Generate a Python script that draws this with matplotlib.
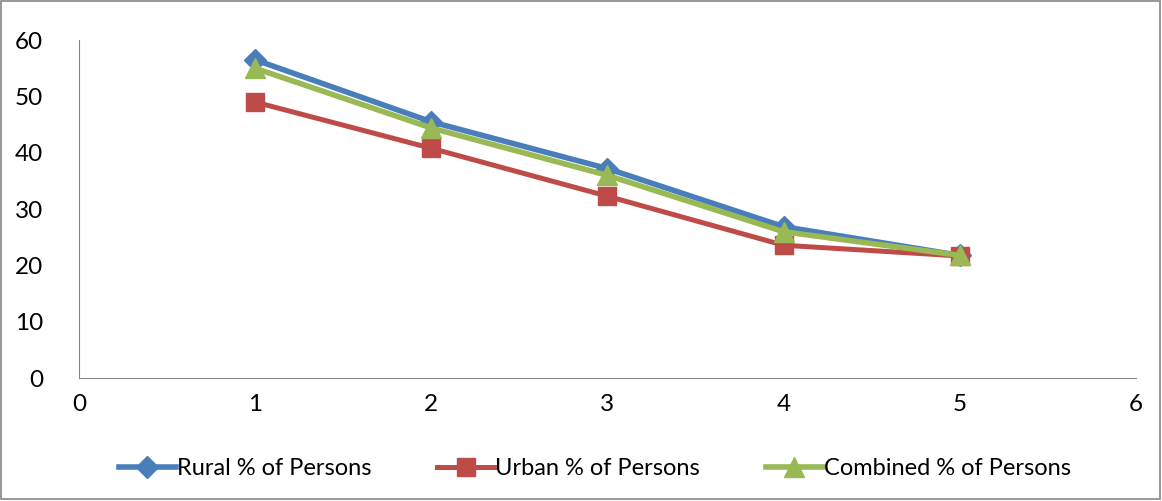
import matplotlib.pyplot as plt
import numpy as np

# Share of persons by group
x = [1, 2, 3, 4, 5]
rural = [56.5, 45.5, 37.2, 26.9, 21.8]
urban = [49.0, 40.8, 32.3, 23.6, 21.7]
combined = [55.0, 44.4, 36.0, 26.0, 21.8]
names = ['Rural % of Persons', 'Urban % of Persons', 'Combined % of Persons']

fig = plt.figure(figsize=(11.62, 5.01), dpi=100)
ax = fig.add_axes([0.068, 0.245, 0.9095, 0.675])

ax.plot(x, rural, '-D', color='#4A7EBB', linewidth=4, markersize=11, label=names[0])
ax.plot(x, urban, '-s', color='#BE4B48', linewidth=3.6, markersize=13, label=names[1])
ax.plot(x, combined, '-^', color='#98B954', linewidth=4, markersize=14, label=names[2])

ax.set_xlim(0, 6)
ax.set_ylim(0, 60)
ax.set_xticks(range(0, 7))
ax.set_yticks(range(0, 61, 10))
# Only left and bottom axis lines, grey like the spreadsheet default
ax.spines['right'].set_visible(False)
ax.spines['top'].set_visible(False)
ax.spines['left'].set_color('#868686')
ax.spines['bottom'].set_color('#868686')
ax.tick_params(length=0, labelsize=17.5, pad=11)
for lab in ax.get_xticklabels() + ax.get_yticklabels():
    lab.set_fontfamily('Lato')
ax.tick_params(axis='y', pad=26)

leg = fig.legend(loc='center', bbox_to_anchor=(0.512, 0.065), ncol=3, frameon=False,
                 prop={'family': 'Lato', 'size': 17},
                 handlelength=2.4, columnspacing=2.8, handletextpad=0.05)

# Outer chart border
fig.patches.append(plt.Rectangle((0.001, 0.004), 0.997, 0.994, transform=fig.transFigure,
                                 fill=False, edgecolor='#868686', linewidth=1.2))

fig.savefig('out.png', dpi=100)
